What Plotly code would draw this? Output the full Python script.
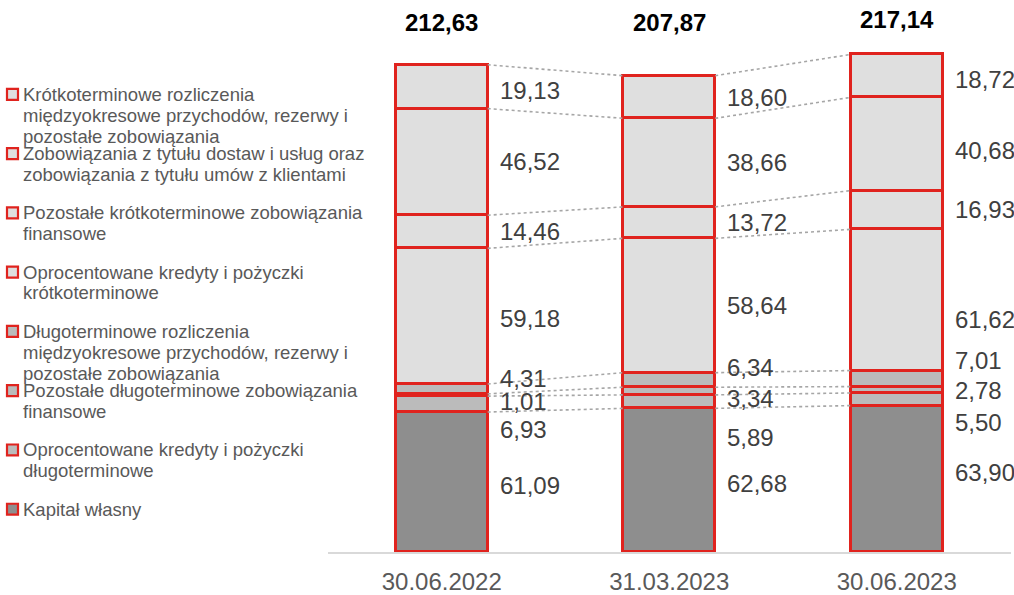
import plotly.graph_objects as go

# ---------------- data ----------------
dates = ["30.06.2022", "31.03.2023", "30.06.2023"]

# stack order: bottom -> top
series_names = [
    "Kapitał własny",
    "Oprocentowane kredyty i pożyczki<br>długoterminowe",
    "Pozostałe długoterminowe zobowiązania<br>finansowe",
    "Długoterminowe rozliczenia<br>międzyokresowe przychodów, rezerwy i<br>pozostałe zobowiązania",
    "Oprocentowane kredyty i pożyczki<br>krótkoterminowe",
    "Pozostałe krótkoterminowe zobowiązania<br>finansowe",
    "Zobowiązania z tytułu dostaw i usług oraz<br>zobowiązania z tytułu umów z klientami",
    "Krótkoterminowe rozliczenia<br>międzyokresowe przychodów, rezerwy i<br>pozostałe zobowiązania",
]
kapital_wlasny = [61.09, 62.68, 63.90]
kredyty_dlugo = [6.93, 5.89, 5.50]
pozostale_dlugo_fin = [1.01, 3.34, 2.78]
rozliczenia_dlugo = [4.31, 6.34, 7.01]
kredyty_krotko = [59.18, 58.64, 61.62]
pozostale_krotko_fin = [14.46, 13.72, 16.93]
zobowiazania_dostaw = [46.52, 38.66, 40.68]
rozliczenia_krotko = [19.13, 18.60, 18.72]
totals = [212.63, 207.87, 217.14]

series_values = [
    kapital_wlasny, kredyty_dlugo, pozostale_dlugo_fin, rozliczenia_dlugo,
    kredyty_krotko, pozostale_krotko_fin, zobowiazania_dostaw, rozliczenia_krotko,
]

# ---------------- styles ----------------
FONT = "Arial, Liberation Sans, sans-serif"
RED = "#E0231E"
LIGHT = "#DFDFDF"
MID = "#BBBBBB"
DARK = "#8E8E8E"
fills = [DARK, MID, MID, MID, LIGHT, LIGHT, LIGHT, LIGHT]
BAR_W = 0.404
W, H, B = 1014, 595, 39
# per-label vertical nudges in px (positive = down), [bar][series]
label_nudge = [
    [3, 25, 7, -10, 2, 0, 0, 4],
    [3, 36, 7, -12, 0, 0, 0, 0],
    [-6, 23, 1, -18, 20, 0, 7, 4],
]
total_nudge = [0, 0, -3]

fmt = lambda v: f"{v:.2f}".replace(".", ",")

xs = list(range(len(dates)))
fig = go.Figure()

for name, vals, fill in zip(series_names, series_values, fills):
    fig.add_trace(go.Bar(
        x=xs, y=vals, name=name.replace("<br>", " "), width=BAR_W,
        marker=dict(color=fill, line=dict(color=RED, width=2.6)),
        showlegend=False, hoverinfo="skip",
    ))

# connector dotted lines between bar boundaries
cum = []
for i in xs:
    c, acc = [], 0.0
    for vals in series_values:
        acc += vals[i]
        c.append(acc)
    cum.append(c)

lx, ly = [], []
for i in xs[:-1]:
    for k in range(len(series_values)):
        lx += [i + BAR_W / 2, i + 1 - BAR_W / 2, None]
        ly += [cum[i][k], cum[i + 1][k], None]
fig.add_trace(go.Scatter(
    x=lx, y=ly, mode="lines", showlegend=False, hoverinfo="skip",
    line=dict(color="#A6A6A6", width=1.6, dash="dot"),
))

annotations = []
# value labels
for i in xs:
    base = 0.0
    for k, vals in enumerate(series_values):
        v = vals[i]
        annotations.append(dict(
            x=i + BAR_W / 2, y=base + v / 2, xref="x", yref="y",
            text=fmt(v), showarrow=False, xanchor="left", yanchor="middle",
            xshift=10, yshift=-label_nudge[i][k],
            font=dict(family=FONT, size=24, color="#404040"),
        ))
        base += v
    annotations.append(dict(
        x=i, y=1, xref="x", yref="paper", yanchor="middle",
        text=f"<b>{fmt(totals[i])}</b>", showarrow=False,
        yshift=-22 - total_nudge[i],
        font=dict(family=FONT, size=24, color="#000000"),
    ))

# custom legend (top item first), one annotation per text line
def py(px):
    return (H - B - px) / (H - B)

shapes = []
legend_order = list(range(len(series_names)))[::-1]
for j, k in enumerate(legend_order):
    yc = 95 + j * 59.7
    for m, line in enumerate(series_names[k].split("<br>")):
        annotations.append(dict(
            xref="paper", yref="paper", x=21 / W, y=py(yc + m * 21),
            text=line, showarrow=False, xanchor="left", yanchor="middle",
            font=dict(family=FONT, size=18.5, color="#595959"),
        ))
    shapes.append(dict(
        type="rect", xref="paper", yref="paper",
        x0=7 / W, x1=18 / W, y0=py(yc + 5.5), y1=py(yc - 5.5),
        fillcolor=fills[k], line=dict(color=RED, width=2.2),
    ))

fig.update_layout(
    width=W, height=H,
    margin=dict(l=0, r=0, t=0, b=B),
    paper_bgcolor="white", plot_bgcolor="white",
    barmode="stack", bargap=0,
    annotations=annotations, shapes=shapes,
    xaxis=dict(
        domain=[328 / W, 1010.5 / W], range=[-0.5, 2.5],
        tickmode="array", tickvals=xs, ticktext=dates,
        showline=True, linecolor="#D9D9D9", linewidth=2,
        showgrid=False, zeroline=False, ticks="",
        ticklabelstandoff=7,
        tickfont=dict(family=FONT, size=24, color="#595959"),
    ),
    yaxis=dict(range=[0, 240.9], visible=False, showgrid=False, zeroline=False),
)

fig.write_html("out.html", config={"displayModeBar": False},
               post_script="document.body.style.margin='0';")
